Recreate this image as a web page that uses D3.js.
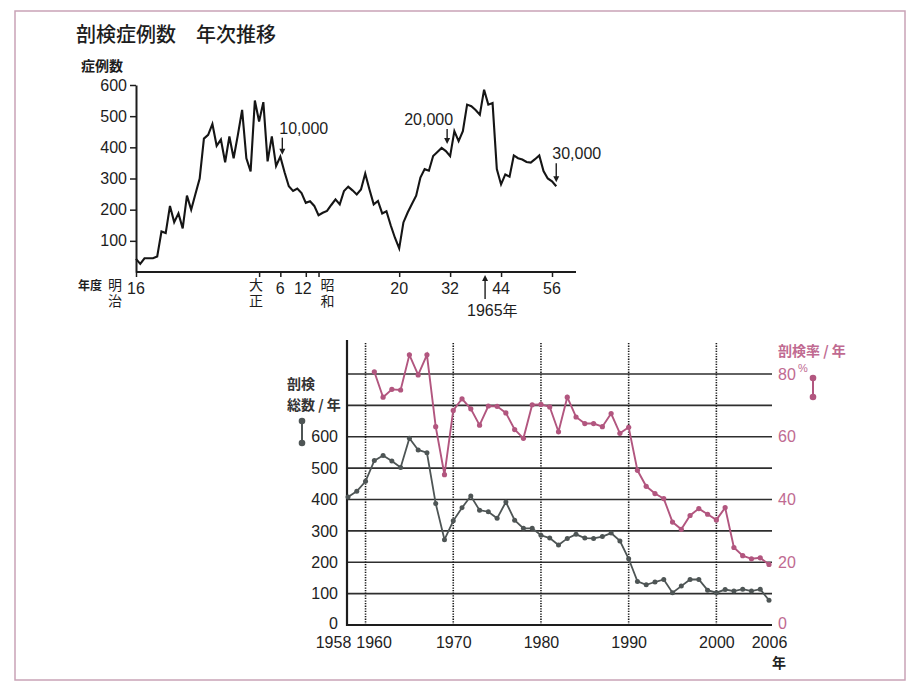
<!DOCTYPE html>
<html><head><meta charset="utf-8">
<script src="https://cdn.jsdelivr.net/npm/d3@7"></script>
<style>
html,body{margin:0;padding:0;background:#fff;}
svg{display:block;}
.num{font-family:"Liberation Sans",Arial,sans-serif;}
.jp{font-family:"Noto Sans CJK JP","Noto Sans",sans-serif;}
</style></head>
<body>
<script>
// ---------- DATA ----------
// Top chart: 剖検症例数 per year, 1883 (明治16) .. 1982
const topStartYear = 1883;
const topValues = [42,26,44,44,44,50,130,125,212,160,188,140,245,200,250,300,428,440,475,405,
  425,352,435,365,440,520,365,323,550,483,545,355,435,340,370,320,275,260,268,253,
  222,227,212,182,190,196,215,233,217,260,274,262,249,265,316,265,217,228,188,195,
  150,110,76,159,191,218,245,303,330,325,372,385,398,388,372,452,420,452,537,532,
  520,505,585,537,542,330,281,313,306,374,365,361,353,351,362,374,324,300,291,275];
const topYTicks = [100,200,300,400,500,600];
const topXTickYears = [1883,1912,1917,1923,1926,1945,1957,1969,1981];
const topXTickLabels = ["16","大正","6","12","昭和","20","32","44","56"];
const topAnnotations = [{year:1917,label:"10,000"},{year:1957,label:"20,000"},{year:1982,label:"30,000"}];
const topMarkYear = 1965, topMarkLabel = "1965年";

// Bottom chart
const totalYears = [1958,1959,1960,1961,1962,1963,1964,1965,1966,1967,1968,1969,1970,1971,1972,1973,1974,1975,1976,1977,
  1978,1979,1980,1981,1982,1983,1984,1985,1986,1987,1988,1989,1990,1991,1992,1993,1994,1995,1996,1997,
  1998,1999,2000,2001,2002,2003,2004,2005,2006];
const totalValues = [408,426,458,524,540,523,502,595,558,549,387,272,332,374,411,366,361,340,392,334,
  308,308,286,277,255,276,289,277,276,282,293,268,211,139,128,137,145,103,124,145,
  145,111,103,113,108,114,108,114,79];
const rateYears = [1961,1962,1963,1964,1965,1966,1967,1968,1969,1970,1971,1972,1973,1974,1975,1976,1977,1978,1979,1980,
  1981,1982,1983,1984,1985,1986,1987,1988,1989,1990,1991,1992,1993,1994,1995,1996,1997,1998,1999,2000,
  2001,2002,2003,2004,2005,2006];
const rateValues = [80.7,72.6,75.1,74.9,86.1,79.7,86.1,63.2,47.9,68.4,72.1,68.9,63.7,69.8,69.7,67.6,62.3,59.5,70.2,70.3,
  69.5,61.6,72.6,66.3,64.2,64.2,63.2,67.4,61.1,63.0,49.3,44.2,41.9,40.3,32.8,30.5,34.9,37.1,35.3,33.5,
  37.4,24.7,22.1,21.1,21.4,19.3];
const leftTicks = [0,100,200,300,400,500,600];
const gridValues = [100,200,300,400,500,600,700,800];
const rightTicks = [0,20,40,60,80];
const bottomXTicks = [1958,1960,1970,1980,1990,2000,2006];
const decadeLines = [1960,1970,1980,1990,2000];

// ---------- DRAW ----------
const W = 919, H = 688;
const svg = d3.select("body").append("svg").attr("width", W).attr("height", H);
svg.append("rect").attr("width", W).attr("height", H).attr("fill", "#fff");
svg.append("rect").attr("x", 15).attr("y", 11).attr("width", 890).attr("height", 669)
  .attr("fill", "none").attr("stroke", "#c9a3b6").attr("stroke-width", 1.5);

const ink = "#1d1d1d";
const pinkLine = "#b2567f", pinkText = "#c06a91", grayLine = "#4e5555";

// ---- Top chart ----
svg.append("text").attr("class","jp").attr("x", 76).attr("y", 42)
  .attr("font-size", 20).attr("font-weight", 500).attr("fill", ink).text("剖検症例数　年次推移");
svg.append("text").attr("class","jp").attr("x", 81).attr("y", 71)
  .attr("font-size", 14).attr("font-weight", 700).attr("fill", ink).text("症例数");

const xT = d3.scaleLinear().domain([1883, 1981]).range([136, 552]);
const yT = d3.scaleLinear().domain([0, 600]).range([272, 85]);

const gyT = svg.append("g").attr("transform", "translate(136,0)")
  .call(d3.axisLeft(yT).tickValues(topYTicks).tickSize(6).tickSizeOuter(0).tickPadding(3));
gyT.select(".domain").attr("stroke", ink).attr("stroke-width", 2);
gyT.selectAll(".tick line").attr("stroke", ink).attr("stroke-width", 1.5);
gyT.selectAll(".tick text").attr("class","num").attr("font-size", 16).attr("fill", ink);

const gxT = svg.append("g").attr("transform", "translate(0,272)")
  .call(d3.axisBottom(xT).tickValues(topXTickYears).tickSize(5).tickSizeOuter(0).tickFormat(""));
gxT.select(".domain").attr("d", "M136,0H576").attr("stroke", ink).attr("stroke-width", 2);
gxT.selectAll(".tick line").attr("stroke", ink).attr("stroke-width", 1.5);

// vertical (tategaki) two-character labels
function stacked(x, yTop, chars, size) {
  svg.append("text").attr("class","jp").attr("writing-mode","vertical-rl")
    .attr("x", x).attr("y", yTop).attr("font-size", size).attr("letter-spacing", 2)
    .attr("fill", ink).text(chars);
}
svg.append("text").attr("class","jp").attr("x", 78).attr("y", 290)
  .attr("font-size", 12).attr("font-weight", 700).attr("fill", ink).text("年度");
stacked(115, 278, "明治", 14);
topXTickYears.forEach((yr, i) => {
  const lab = topXTickLabels[i];
  if (/^\d+$/.test(lab)) {
    const dx = lab === "12" ? -3 : 0;
    svg.append("text").attr("class","num").attr("x", xT(yr) + dx).attr("y", 294)
      .attr("text-anchor","middle").attr("font-size", 16).attr("fill", ink).text(lab);
  } else {
    const dx = lab === "昭和" ? 9 : -3;
    stacked(xT(yr) + dx, 278, lab, 14);
  }
});

const lineT = d3.line().x((d, i) => xT(topStartYear + i)).y(d => yT(d));
svg.append("path").datum(topValues).attr("d", lineT).attr("fill","none")
  .attr("stroke", "#151515").attr("stroke-width", 2.1).attr("stroke-linejoin","miter");

function arrow(x, y1, y2) { // from y1 to y2 with head at y2
  const dir = y2 > y1 ? 1 : -1;
  svg.append("line").attr("x1", x).attr("x2", x).attr("y1", y1).attr("y2", y2 - dir * 5)
    .attr("stroke", ink).attr("stroke-width", 1.4);
  svg.append("path").attr("d", `M${x-3},${y2 - dir*6}L${x+3},${y2 - dir*6}L${x},${y2}Z`).attr("fill", ink);
}
const annLayout = {"10,000": {tipGap: 2, anchor: "start", dx: -3, len: 17},
                   "20,000": {tipGap: 12, anchor: "end", dx: 6, len: 15},
                   "30,000": {tipGap: 4, anchor: "start", dx: -4, len: 19}};
topAnnotations.forEach(a => {
  const L = annLayout[a.label];
  const x = xT(a.year) - (a.year === 1957 ? 3 : (a.year === 1917 ? -2 : 0));
  const v = topValues[Math.min(a.year - topStartYear, topValues.length - 1)];
  const tip = yT(v) - L.tipGap;
  arrow(x, tip - L.len, tip);
  svg.append("text").attr("class","num").attr("x", x + L.dx).attr("y", tip - L.len - 4)
    .attr("text-anchor", L.anchor).attr("font-size", 16).attr("fill", ink).text(a.label);
});
arrow(xT(topMarkYear) + 1, 299, 275);
svg.append("text").attr("class","num").attr("x", 467).attr("y", 316)
  .attr("font-size", 16).attr("fill", ink).text("1965").append("tspan").attr("class","jp").attr("font-size", 15).text("年");

// ---- Bottom chart ----
const xB = d3.scaleLinear().domain([1958, 2006]).range([348, 769]);
const yL = d3.scaleLinear().domain([0, 800]).range([625, 374]);
const yR = d3.scaleLinear().domain([0, 80]).range([625, 374]);

// gridlines
svg.append("g").selectAll("line").data(gridValues).join("line")
  .attr("x1", 347).attr("x2", 772).attr("y1", d => yL(d)).attr("y2", d => yL(d))
  .attr("stroke", "#2e2e2e").attr("stroke-width", 1.7);
// decade dotted lines
svg.append("g").selectAll("line").data(decadeLines).join("line")
  .attr("x1", d => xB(d)).attr("x2", d => xB(d)).attr("y1", 343).attr("y2", 625)
  .attr("stroke", "#1a1a1a").attr("stroke-width", 1.6).attr("stroke-dasharray", "1.3,1.3");
// x axis baseline
svg.append("line").attr("x1", 346).attr("x2", 772).attr("y1", yL(0)).attr("y2", yL(0))
  .attr("stroke", ink).attr("stroke-width", 2.2);
// left axis
const gL = svg.append("g").attr("transform", "translate(347,0)")
  .call(d3.axisLeft(yL).tickValues(leftTicks).tickSize(0).tickPadding(9));
gL.select(".domain").attr("d", "M0,340V626").attr("stroke", ink).attr("stroke-width", 2.2);
gL.selectAll(".tick text").attr("class","num").attr("font-size", 16).attr("fill", "#222")
  .attr("dy", d => d === 0 ? "0.2em" : "0.32em");
// right axis
const gR = svg.append("g").attr("transform", "translate(772,0)")
  .call(d3.axisRight(yR).tickValues(rightTicks).tickSize(0).tickPadding(6));
gR.select(".domain").remove();
gR.selectAll(".tick text").attr("class","num").attr("font-size", 16).attr("fill", pinkText)
  .attr("dy", d => d === 0 ? "0.2em" : "0.32em");
// bottom axis labels
const gB = svg.append("g").attr("transform", "translate(0,625)")
  .call(d3.axisBottom(xB).tickValues(bottomXTicks).tickSize(0).tickPadding(12).tickFormat(d3.format("d")));
gB.select(".domain").remove();
gB.selectAll(".tick text").attr("class","num").attr("font-size", 16).attr("fill", "#222")
  .attr("dx", d => d === 1958 ? -15 : (d === 1960 ? 8 : 0));
svg.append("text").attr("class","jp").attr("x", 779).attr("y", 668).attr("text-anchor","middle")
  .attr("font-size", 14).attr("font-weight", 700).attr("fill", "#222").text("年");

// series
const lineTotal = d3.line().x((d, i) => xB(totalYears[i])).y(d => yL(d));
svg.append("path").datum(totalValues).attr("d", lineTotal).attr("fill","none")
  .attr("stroke", grayLine).attr("stroke-width", 1.8);
svg.append("g").selectAll("circle").data(totalValues).join("circle")
  .attr("cx", (d, i) => xB(totalYears[i])).attr("cy", d => yL(d)).attr("r", 2.5).attr("fill", grayLine);

const lineRate = d3.line().x((d, i) => xB(rateYears[i])).y(d => yR(d));
svg.append("path").datum(rateValues).attr("d", lineRate).attr("fill","none")
  .attr("stroke", pinkLine).attr("stroke-width", 1.9);
svg.append("g").selectAll("circle").data(rateValues).join("circle")
  .attr("cx", (d, i) => xB(rateYears[i])).attr("cy", d => yR(d)).attr("r", 2.6).attr("fill", pinkLine);

// left legend
svg.append("text").attr("class","jp").attr("font-size", 14).attr("font-weight", 700).attr("fill", "#333")
  .attr("x", 287).attr("y", 389).text("剖検");
svg.append("text").attr("class","jp").attr("font-size", 14).attr("font-weight", 700).attr("fill", "#333")
  .attr("x", 287).attr("y", 410).text("総数 / 年");
svg.append("line").attr("x1", 302).attr("x2", 302).attr("y1", 421).attr("y2", 443).attr("stroke", grayLine).attr("stroke-width", 2);
svg.selectAll(".lg").data([421, 443]).join("circle").attr("cx", 302).attr("cy", d => d).attr("r", 3.3).attr("fill", grayLine);

// right legend
svg.append("text").attr("class","jp").attr("x", 778).attr("y", 356).attr("font-size", 14)
  .attr("font-weight", 700).attr("fill", pinkText).text("剖検率 / 年");
svg.append("text").attr("class","num").attr("x", 798).attr("y", 372).attr("font-size", 11)
  .attr("fill", pinkText).text("%");
svg.append("line").attr("x1", 813).attr("x2", 813).attr("y1", 378).attr("y2", 397).attr("stroke", pinkLine).attr("stroke-width", 2);
svg.selectAll(".lp").data([378, 397]).join("circle").attr("cx", 813).attr("cy", d => d).attr("r", 3.3).attr("fill", pinkLine);
</script>
</body></html>
